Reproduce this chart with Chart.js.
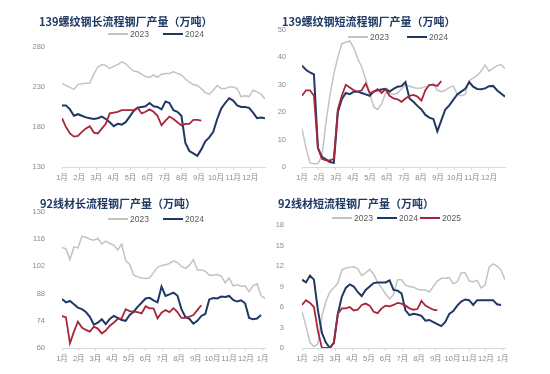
<!DOCTYPE html>
<html><head><meta charset="utf-8">
<script src="https://cdn.jsdelivr.net/npm/chart.js@4/dist/chart.umd.min.js"></script>
<style>
body{margin:0;background:#fff;}
#wrap{position:relative;width:550px;height:374px;overflow:hidden;background:#fff;}
canvas{position:absolute;}
.title{position:absolute;font-family:"Noto Sans CJK SC";font-weight:700;font-size:11px;color:#1f3864;white-space:nowrap;line-height:11px;}
.lg-line{position:absolute;height:2px;width:20px;}
.lg-text{position:absolute;font-family:"Liberation Sans","Noto Sans CJK SC";font-size:8.5px;color:#595959;line-height:9px;white-space:nowrap;}
</style></head>
<body>
<div id="wrap">
  <canvas id="c1" width="275" height="190" style="left:0;top:0"></canvas>
  <canvas id="c2" width="275" height="190" style="left:275px;top:0"></canvas>
  <canvas id="c3" width="275" height="184" style="left:0;top:190px"></canvas>
  <canvas id="c4" width="275" height="184" style="left:275px;top:190px"></canvas>

  <div class="title" style="left:39px;top:16px">139螺纹钢长流程钢厂产量（万吨）</div>
  <div class="title" style="left:282px;top:16px">139螺纹钢短流程钢厂产量（万吨）</div>
  <div class="title" style="left:40px;top:198px">92线材长流程钢厂产量（万吨）</div>
  <div class="title" style="left:278px;top:198px">92线材短流程钢厂产量（万吨）</div>
  <div id="legends"></div>
</div>
<script>
// ---------- data ----------
const monthLabels = ['1月','2月','3月','4月','5月','6月','7月','8月','9月','10月','11月','12月','1月'];
const seriesNames = ['2023','2024','2025'];

// 139螺纹钢长流程钢厂产量（万吨）, weekly
const rebarLong2023 = [234.6,232,229.5,227,233,234,234.6,235,246,255,258,257,253,256,258,261.5,259,254,250,249,246,243,242,245,242,246,247,247,249,247,245,240,236,233,232,228,223,221,226,232,228,228,230,230,228,218,219,218,226,224,221,215];
const rebarLong2024 = [207,207,202,194,196,194,192,191,190,191,193,190,186,181,184,183,186,193,200,204,205,206,210,206,205,202,212,210,201,199,194,160,150,147,144,152,162,167,174,190,203,210,216,213,207,205,205,204,198,191,192,191];
const rebarLong2025 = [191,180,172,168,169,174,178,181,173,172,178,184,197,198,199,201,201,201,201,204,197,199,202,199,194,182,188,193,190,186,182,184,184,189,189,188];

// 139螺纹钢短流程钢厂产量（万吨）
const rebarShort2023 = [14,7,1.5,1.2,1.3,4,16,26,34,40,45,45.5,46,43.5,39.5,36.5,32,27,22,21,23,27,27,26.5,27,28.5,30,29.5,29,28.7,28.8,29.3,29.6,30.5,28,27.5,28,29,29.6,26.5,26,26.5,31.5,32.4,33.3,35,37.3,35,36,37,37.3,36];
const rebarShort2024 = [37,35.5,34.5,33.8,7,3.7,2.8,1.8,1.5,20,24.7,27,26.6,27.5,27.5,27,26.5,26,27.5,28,28.3,28.5,27.5,28.5,29.3,29.5,31,25,23.8,22.3,21,19,18,17.5,13,17,21,22.5,24.5,26.5,27.5,28.5,31,29.3,28.5,28.4,28.7,29.5,29.6,28,26.8,25.7];
const rebarShort2025 = [26,28,28,26,7,3,2.4,2.4,3,21,26,30,29,28,27.5,28,30.5,27,27.5,28.4,27,28.4,26,25,24.7,23.8,25,26,26.3,25.7,24.2,28,30,30,29.6,31.4];

// 92线材长流程钢厂产量（万吨）
const wireLong2023 = [111.8,111,105.5,112,111.5,117.5,117,116,115.5,116.5,113.5,115,113.8,113,110.5,113.5,105,103,97.6,96.6,96,95.8,96,98.8,101.5,102.5,102.8,103.5,104.9,104,102,101,102.5,105.5,100.1,100.1,99.5,97.5,97.5,97.8,97,93.6,96,92,92.5,91.8,92,89,92,93,87,85.6];
const wireLong2024 = [85.2,83.5,84.2,82.5,80.8,80,78.5,76,72,73,74.8,72.3,75,76.5,75.5,74.4,74,77,78.7,81.2,83.3,85.5,85.8,84.5,83.5,91.6,86.8,87.6,88.5,87,80,76,75,72.5,74,76.5,77.5,85,85.7,85.5,86.5,86.3,86.8,84.7,83.9,84.5,83,75.5,74.8,75.2,77];
const wireLong2025 = [76.5,75.8,62.4,68.4,73.6,70.5,69.3,68.4,71,70,67.5,69,71.5,73,75,75.3,80,79,78.7,78.5,77.8,81.5,80.4,80.4,75.3,78.2,79.5,78.5,80.5,78.5,75.5,75.5,76.1,77,79.5,82];

// 92线材短流程钢厂产量（万吨）
const wireShort2023 = [5.3,3.2,0.8,0.2,0.6,4.6,6.8,8.2,8.8,9.5,11.4,11.7,11.8,11.9,11.6,10.6,11,11.5,10.8,9.6,8.8,7.9,7.2,7.8,10,10,9.2,9,8.9,8.6,8.5,8.5,8.2,9,9.8,10.2,10.2,10.3,9.4,9.7,11,11,9.8,9.7,9.9,8.8,9.2,11.8,12.3,12,11.4,10];
const wireShort2024 = [10,9.6,10.6,10,5.5,2.2,0.8,0,0.8,5,7.5,8.8,9.3,9,8.2,7.6,8.5,9,9.5,9.6,9.6,9.6,9.9,8.5,8.4,8,5.5,4.8,5,4.9,4.7,4,4.1,3.8,3.5,3.2,3.8,5,5.4,6.2,6.8,7.1,7,6.3,7,7,7,7,7,6.4,6.3];
const wireShort2025 = [6.3,7,6.6,6,2.5,0,0,0,0.7,5,5.8,5.8,6,5.5,5.6,6.3,6.5,6.2,5.3,5.1,5.8,6.2,6.1,6.3,6.6,6.5,6.2,5.8,5.6,5.7,6.9,6.2,5.9,5.6,5.5];

// ---------- styles ----------
const COLORS = {'2023':'#c3c3c3','2024':'#1f3864','2025':'#a8263b'};
const WIDTHS = {'2023':1.5,'2024':2,'2025':1.8};
const ORDER  = {'2023':3,'2024':2,'2025':1};
const TICK_FONT = {family:'"Liberation Sans","Noto Sans CJK SC"', size:7.5};
const TICK_COLOR = '#8a8a8a';

const panels = [
  {id:'c1', series:[rebarLong2023, rebarLong2024, rebarLong2025], yMin:130, yMax:280, yStep:50, wpm:4.3,
   pad:{top:47,right:10}, yW:62, xH:23, yPad:9},
  {id:'c2', series:[rebarShort2023, rebarShort2024, rebarShort2025], yMin:0, yMax:50, yStep:10, wpm:4.27,
   pad:{top:30,right:45}, yW:27, xH:23, yPad:8},
  {id:'c3', series:[wireLong2023, wireLong2024, wireLong2025], yMin:60, yMax:130, yStep:14, wpm:4.2,
   pad:{top:22,right:10}, yW:62, xH:26, yPad:9},
  {id:'c4', series:[wireShort2023, wireShort2024, wireShort2025], yMin:0, yMax:18, yStep:3, wpm:4.2,
   pad:{top:35,right:45}, yW:27, xH:26, yPad:10}
];

panels.forEach(p => {
  const datasets = p.series.map((arr, k) => {
    const name = seriesNames[k];
    return {
      label: name,
      data: arr.map((v, i) => ({x: i, y: v})),
      borderColor: COLORS[name],
      backgroundColor: COLORS[name],
      borderWidth: WIDTHS[name],
      pointRadius: 0,
      tension: 0,
      order: ORDER[name]
    };
  });
  new Chart(document.getElementById(p.id), {
    type: 'line',
    data: {datasets},
    options: {
      responsive: false,
      animation: false,
      devicePixelRatio: 1,
      layout: {padding: {left: 0, top: p.pad.top, right: p.pad.right, bottom: 0}},
      plugins: {legend: {display: false}, title: {display: false}, tooltip: {enabled: false}},
      scales: {
        x: {
          type: 'linear', min: 0, max: 51,
          afterBuildTicks: sc => {
            sc.ticks = monthLabels.map((_, m) => ({value: m * p.wpm})).filter(t => t.value <= 51);
          },
          afterFit: sc => { sc.height = p.xH; },
          ticks: {
            autoSkip: false, maxRotation: 0, padding: 3,
            color: TICK_COLOR, font: TICK_FONT,
            callback: (v, i) => monthLabels[i]
          },
          grid: {display: true, drawOnChartArea: false, drawTicks: true, tickLength: 3, color: '#d9d9d9'},
          border: {display: true, color: '#d9d9d9', width: 1}
        },
        y: {
          min: p.yMin, max: p.yMax,
          afterFit: sc => { sc.width = p.yW; },
          ticks: {stepSize: p.yStep, padding: p.yPad, color: TICK_COLOR, font: TICK_FONT},
          grid: {display: false},
          border: {display: false}
        }
      }
    }
  });
});

// ---------- legends (HTML) ----------
const legendSpecs = [
  {y:34, items:[{n:'2023', x:108},{n:'2024', x:163}]},
  {y:37, items:[{n:'2023', x:348},{n:'2024', x:407}]},
  {y:219, items:[{n:'2023', x:108},{n:'2024', x:163}]},
  {y:218, items:[{n:'2023', x:332},{n:'2024', x:377},{n:'2025', x:420}]}
];
const lg = document.getElementById('legends');
legendSpecs.forEach(s => {
  s.items.forEach(it => {
    const l = document.createElement('div');
    l.className = 'lg-line';
    l.style.left = it.x + 'px';
    l.style.top = (s.y - 1) + 'px';
    l.style.background = COLORS[it.n];
    lg.appendChild(l);
    const t = document.createElement('div');
    t.className = 'lg-text';
    t.textContent = it.n;
    t.style.left = (it.x + 22) + 'px';
    t.style.top = (s.y - 4.5) + 'px';
    lg.appendChild(t);
  });
});
</script>
</body></html>
